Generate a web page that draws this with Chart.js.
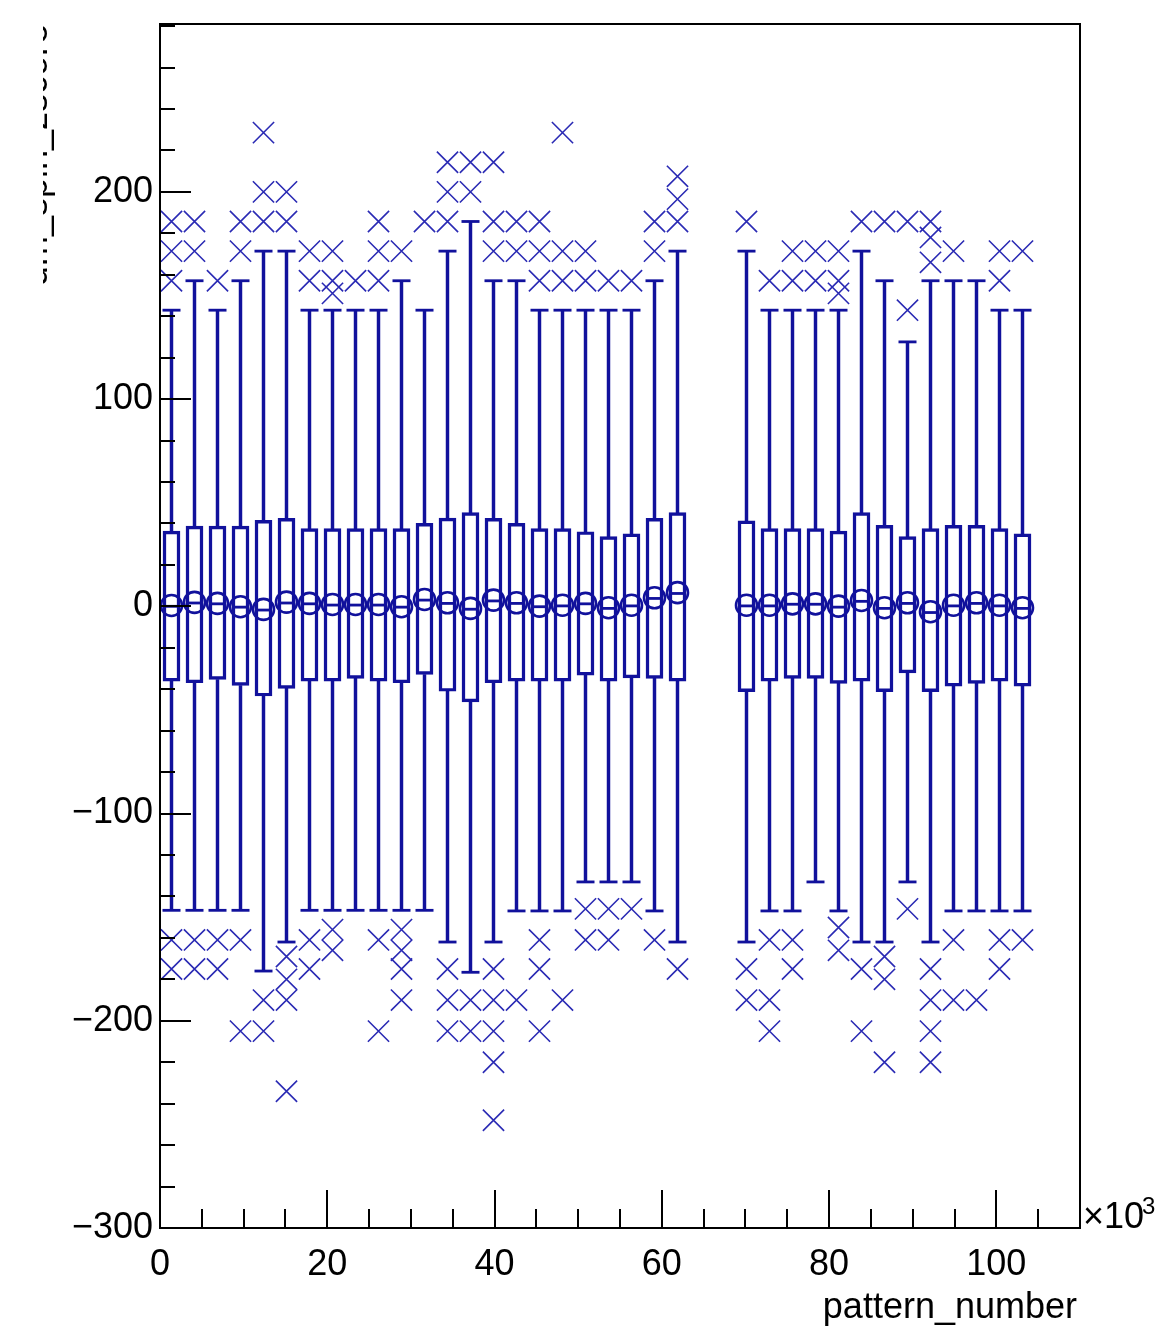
<!DOCTYPE html>
<html>
<head>
<meta charset="utf-8">
<script src="https://cdn.jsdelivr.net/npm/chart.js@4.4.1/dist/chart.umd.min.js"></script>
<style>
  html, body { margin: 0; padding: 0; background: #fff; }
  #wrap { width: 1164px; height: 1330px; }
</style>
</head>
<body>
<div id="wrap"><canvas id="candle" width="1164" height="1330"></canvas></div>
<script>
'use strict';
// ===================== data (x in units of 10^3) =====================
const binCenters = [1.375, 4.125, 6.875, 9.625, 12.375, 15.125, 17.875, 20.625, 23.375, 26.125,
                    28.875, 31.625, 34.375, 37.125, 39.875, 42.625, 45.375, 48.125, 50.875, 53.625,
                    56.375, 59.125, 61.875,
                    70.125, 72.875, 75.625, 78.375, 81.125, 83.875, 86.625, 89.375, 92.125, 94.875,
                    97.625, 100.375, 103.125];

const boxQ3 = [36.3, 38.7, 38.7, 38.7, 41.5, 42.4, 37.5, 37.5, 37.5, 37.5,
               37.5, 40.0, 42.6, 45.2, 42.4, 40.0, 37.5, 37.5, 36.0, 33.6,
               35.0, 42.4, 45.2,
               41.2, 37.5, 37.5, 37.5, 36.3, 45.2, 39.1, 33.6, 37.5, 39.1,
               39.1, 37.5, 35.0];

const boxQ1 = [-36.1, -36.9, -35.3, -38.2, -43.3, -39.6, -36.1, -36.1, -34.8, -36.1,
               -36.9, -32.9, -41.0, -46.1, -36.9, -36.1, -36.1, -36.1, -33.2, -36.1,
               -34.5, -34.8, -36.1,
               -41.2, -36.1, -34.8, -34.8, -37.2, -36.1, -41.2, -32.1, -41.2, -38.5,
               -37.2, -36.1, -38.5];

const medians = [0.0, 1.6, 1.2, -0.4, -1.8, 1.6, 1.2, 0.6, 0.6, 0.6,
                 -0.4, 3.0, 1.4, -1.4, 2.6, 1.4, -0.2, 0.2, 1.2, -1.0,
                 0.2, 3.8, 6.2,
                 0.2, 0.2, 1.0, 1.0, -0.4, 2.4, -1.0, 1.4, -3.0, 0.2,
                 1.4, 0.2, -1.0];

const means = [0.4, 1.9, 1.4, -0.2, -1.5, 2.0, 1.4, 0.9, 0.9, 0.9,
               -0.2, 3.3, 1.7, -1.0, 3.0, 1.7, 0.1, 0.5, 1.4, -0.7,
               0.5, 4.1, 6.6,
               0.5, 0.5, 1.2, 1.2, 0.1, 2.8, -0.7, 1.7, -2.6, 0.5,
               1.7, 0.5, -0.7];

const whiskerHigh = [142.9, 157.1, 142.9, 157.1, 171.4, 171.4, 142.9, 142.9, 142.9, 142.9,
                     157.1, 142.9, 171.4, 185.7, 157.1, 157.1, 142.9, 142.9, 142.9, 142.9,
                     142.9, 157.1, 171.4,
                     171.4, 142.9, 142.9, 142.9, 142.9, 171.4, 157.1, 127.6, 157.1, 157.1,
                     157.1, 142.9, 142.9];

const whiskerLow = [-146.7, -146.7, -146.7, -146.7, -176.0, -162.0, -146.7, -146.7, -146.7, -146.7,
                    -146.7, -146.7, -162.0, -176.6, -162.0, -147.0, -147.0, -147.0, -133.0, -133.0,
                    -133.0, -147.0, -162.0,
                    -162.0, -147.0, -147.0, -133.0, -147.0, -162.0, -162.0, -133.0, -162.0, -147.0,
                    -147.0, -147.0, -147.0];

const outliersHigh = [
  [185.7, 171.4, 157.1], [185.7, 171.4], [157.1], [185.7, 171.4], [228.6, 200, 185.7],
  [200, 185.7], [171.4, 157.1], [171.4, 157.1, 151.0], [157.1], [185.7, 171.4, 157.1],
  [171.4], [185.7], [214.3, 200, 185.7], [214.3, 200], [214.3, 185.7, 171.4],
  [185.7, 171.4], [185.7, 171.4, 157.1], [228.6, 171.4, 157.1], [171.4, 157.1], [157.1],
  [157.1], [185.7, 171.4], [207.5, 196.5, 185.7],
  [185.7], [157.1], [171.4, 157.1], [171.4, 157.1], [171.4, 157.1, 151.0],
  [185.7], [185.7], [185.7, 142.9], [185.7, 178.0, 166.0], [171.4],
  [], [171.4, 157.1], [171.4]
];

const outliersLow = [
  [-161, -175], [-161, -175], [-161, -175], [-161, -205], [-190, -205],
  [-169, -180, -190, -234], [-161, -175], [-156, -166], [], [-161, -205],
  [-156, -166, -175, -190], [], [-175, -190, -205], [-190, -205], [-175, -190, -205, -220, -248],
  [-190], [-161, -175, -205], [-190], [-146, -161], [-146, -161],
  [-146], [-161], [-175],
  [-175, -190], [-161, -190, -205], [-161, -175], [], [-155, -166],
  [-175, -205], [-169, -180, -220], [-146], [-175, -190, -205, -220], [-161, -190],
  [-190], [-161, -175], [-161]
];

const xTickLabels = [0, 20, 40, 60, 80, 100];
const yTickLabels = [-300, -200, -100, 0, 100, 200];
const xTitle = 'pattern_number';
const yTitle = 'dm_spin_zscore';

// ===================== chart =====================
const BLUE = '#11119c';
const MARK = '#2a2ab4';
const FONT = '"Liberation Sans", Arial, Helvetica, sans-serif';

const boxData = binCenters.map((x, i) => ({ x, y: [boxQ1[i], boxQ3[i]] }));
const upData = binCenters.map((x, i) => ({ x, y: [boxQ3[i], whiskerHigh[i]] }));
const downData = binCenters.map((x, i) => ({ x, y: [whiskerLow[i], boxQ1[i]] }));
const capData = binCenters.map((x, i) => ({ x, y: whiskerHigh[i] }))
  .concat(binCenters.map((x, i) => ({ x, y: whiskerLow[i] })));
const medianData = binCenters.map((x, i) => ({ x, y: medians[i] }));
const meanData = binCenters.map((x, i) => ({ x, y: means[i] }));
const outlierData = [];
binCenters.forEach((x, i) => {
  outliersHigh[i].forEach(v => outlierData.push({ x, y: v }));
  outliersLow[i].forEach(v => outlierData.push({ x, y: v }));
});

const rootFrame = {
  id: 'rootFrame',
  afterDatasetsDraw(chart) {
    const { ctx, chartArea: a, scales: { x, y } } = chart;
    ctx.save();
    ctx.strokeStyle = '#000';
    ctx.lineWidth = 2;
    ctx.strokeRect(a.left, a.top, a.right - a.left, a.bottom - a.top);
    ctx.beginPath();
    for (let v = y.min; v <= y.max; v += 20) {
      const py = Math.round(y.getPixelForValue(v));
      const len = v % 100 === 0 ? 31 : 15;
      ctx.moveTo(a.left, py);
      ctx.lineTo(a.left + len, py);
    }
    for (let v = x.min; v <= x.max; v += 5) {
      const px = Math.round(x.getPixelForValue(v));
      const len = v % 20 === 0 ? 38 : 19;
      ctx.moveTo(px, a.bottom);
      ctx.lineTo(px, a.bottom - len);
    }
    ctx.stroke();

    ctx.fillStyle = '#000';
    ctx.font = '36px ' + FONT;
    ctx.textAlign = 'left';
    ctx.textBaseline = 'alphabetic';
    ctx.fillText('\u00d710', a.right + 3, a.bottom);
    ctx.font = '24px ' + FONT;
    ctx.fillText('3', a.right + 62, a.bottom - 14);

    ctx.font = '36px ' + FONT;
    ctx.textAlign = 'right';
    ctx.fillText(xTitle, a.right - 3, 1318);

    // y title: mostly outside the pad, only its baseline strip shows
    ctx.save();
    ctx.beginPath();
    ctx.rect(43, 0, 40, 330);
    ctx.clip();
    ctx.translate(47, a.top);
    ctx.rotate(-Math.PI / 2);
    ctx.textAlign = 'right';
    ctx.fillText(yTitle, 0, 0);
    ctx.restore();
    ctx.restore();
  }
};

new Chart(document.getElementById('candle').getContext('2d'), {
  type: 'bar',
  data: {
    datasets: [
      { type: 'bar', data: boxData, backgroundColor: 'rgba(0,0,0,0)', borderColor: BLUE,
        borderWidth: 2.8, borderSkipped: false, barThickness: 17, grouped: false },
      { type: 'bar', data: upData, backgroundColor: BLUE, borderWidth: 0,
        barThickness: 2.8, grouped: false },
      { type: 'bar', data: downData, backgroundColor: BLUE, borderWidth: 0,
        barThickness: 2.8, grouped: false },
      { type: 'scatter', data: capData, pointStyle: 'line', pointRadius: 9,
        borderColor: BLUE, pointBorderWidth: 2.8 },
      { type: 'scatter', data: medianData, pointStyle: 'line', pointRadius: 8,
        borderColor: BLUE, pointBorderWidth: 2.8 },
      { type: 'scatter', data: meanData, pointStyle: 'circle', pointRadius: 10.5,
        backgroundColor: 'rgba(0,0,0,0)', borderColor: BLUE, pointBorderWidth: 2.6 },
      { type: 'scatter', data: outlierData, pointStyle: 'crossRot', pointRadius: 15,
        borderColor: MARK, pointBorderWidth: 1.6 }
    ]
  },
  options: {
    responsive: false,
    animation: false,
    events: [],
    layout: { padding: { left: 0, right: 84, top: 24, bottom: 0 } },
    plugins: { legend: { display: false }, tooltip: { enabled: false } },
    scales: {
      x: {
        type: 'linear', min: 0, max: 110, offset: false,
        grid: { display: false, drawTicks: false }, border: { display: false },
        ticks: { color: '#000', padding: 15, maxRotation: 0, font: { family: FONT, size: 36 } },
        afterBuildTicks: s => { s.ticks = xTickLabels.map(v => ({ value: v })); },
        afterFit: s => { s.height = 102; s.paddingLeft = 0; s.paddingRight = 0; }
      },
      y: {
        type: 'linear', min: -300, max: 281,
        grid: { display: false, drawTicks: false }, border: { display: false },
        ticks: { color: '#000', padding: 7, font: { family: FONT, size: 36 },
                 callback: v => String(v).replace('-', '\u2212') },
        afterBuildTicks: s => { s.ticks = yTickLabels.map(v => ({ value: v })); },
        afterFit: s => { s.width = 160; s.paddingTop = 0; s.paddingBottom = 0; }
      }
    }
  },
  plugins: [rootFrame]
});
</script>
</body>
</html>
